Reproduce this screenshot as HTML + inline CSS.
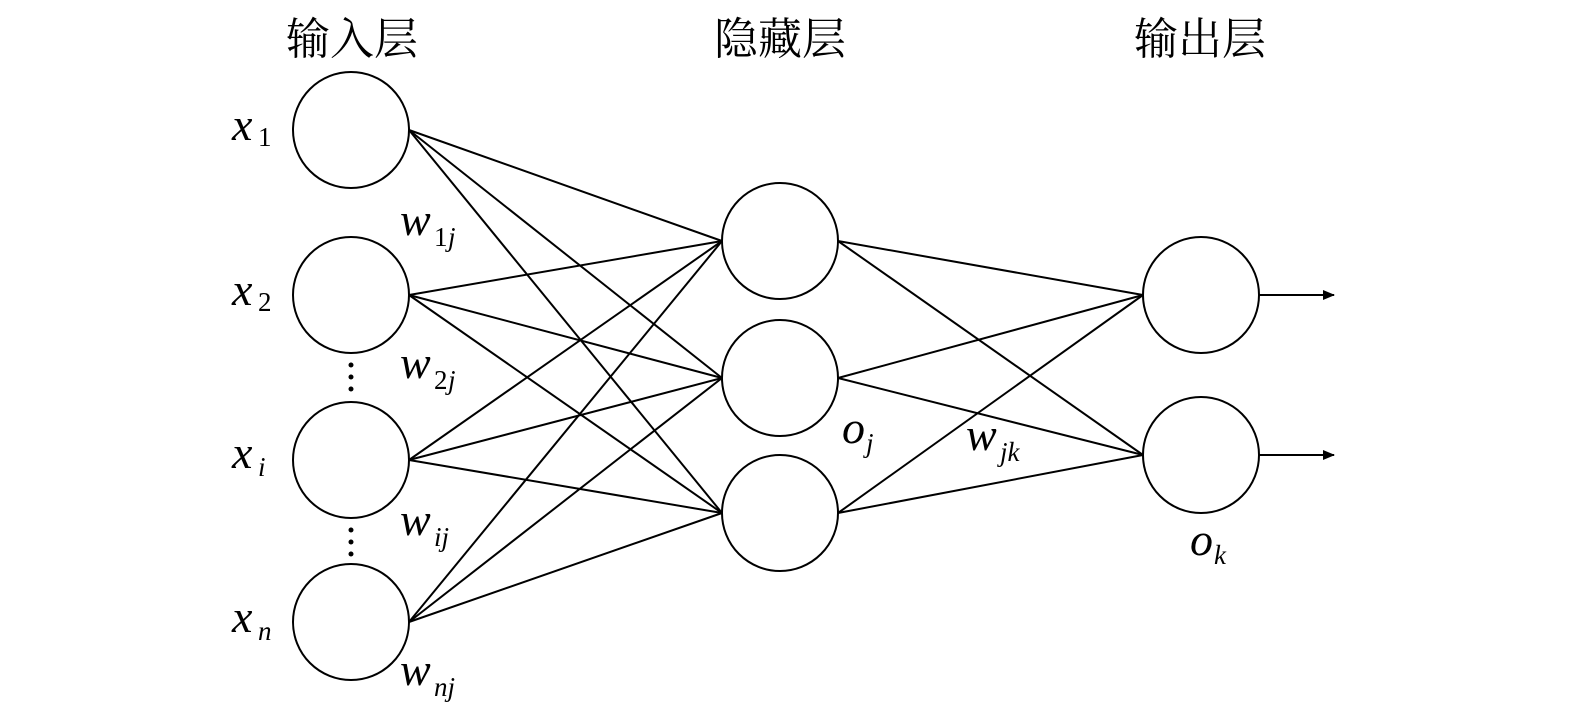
<!DOCTYPE html>
<html><head><meta charset="utf-8"><style>
html,body{margin:0;padding:0;background:#fff;}
svg{display:block;}
.t{font-family:"Liberation Serif","Noto Serif CJK SC",serif;}
.cn{font-family:"Liberation Serif","Noto Serif CJK SC","Noto Sans CJK SC",serif;font-size:44px;}
.v{font-family:"Liberation Serif",serif;font-style:italic;font-size:46px;}
.s{font-family:"Liberation Serif",serif;font-size:27px;}
.si{font-family:"Liberation Serif",serif;font-style:italic;font-size:27px;}
</style></head><body>
<svg width="1575" height="724" viewBox="0 0 1575 724" xmlns="http://www.w3.org/2000/svg">
<defs><marker id="a" markerWidth="12" markerHeight="10" refX="11" refY="5" orient="auto" markerUnits="userSpaceOnUse"><path d="M0,0 L12,5 L0,10 Z" fill="#000"/></marker></defs>
<g stroke="#000" stroke-width="2" fill="none">
<!-- input to hidden -->
<line x1="409" y1="130" x2="722" y2="241"/><line x1="409" y1="130" x2="722" y2="378"/><line x1="409" y1="130" x2="722" y2="513"/>
<line x1="409" y1="295" x2="722" y2="241"/><line x1="409" y1="295" x2="722" y2="378"/><line x1="409" y1="295" x2="722" y2="513"/>
<line x1="409" y1="460" x2="722" y2="241"/><line x1="409" y1="460" x2="722" y2="378"/><line x1="409" y1="460" x2="722" y2="513"/>
<line x1="409" y1="622" x2="722" y2="241"/><line x1="409" y1="622" x2="722" y2="378"/><line x1="409" y1="622" x2="722" y2="513"/>
<!-- hidden to output -->
<line x1="838" y1="241" x2="1143" y2="295"/><line x1="838" y1="241" x2="1143" y2="455"/>
<line x1="838" y1="378" x2="1143" y2="295"/><line x1="838" y1="378" x2="1143" y2="455"/>
<line x1="838" y1="513" x2="1143" y2="295"/><line x1="838" y1="513" x2="1143" y2="455"/>
<line x1="1259" y1="295" x2="1334" y2="295" marker-end="url(#a)"/>
<line x1="1259" y1="455" x2="1334" y2="455" marker-end="url(#a)"/>
<g fill="#fff">
<circle cx="351" cy="130" r="58"/><circle cx="351" cy="295" r="58"/><circle cx="351" cy="460" r="58"/><circle cx="351" cy="622" r="58"/>
<circle cx="780" cy="241" r="58"/><circle cx="780" cy="378" r="58"/><circle cx="780" cy="513" r="58"/>
<circle cx="1201" cy="295" r="58"/><circle cx="1201" cy="455" r="58"/>
</g>
</g>
<g fill="#000">
<circle cx="351" cy="365" r="2.5"/><circle cx="351" cy="377" r="2.5"/><circle cx="351" cy="389" r="2.5"/>
<circle cx="351" cy="530" r="2.5"/><circle cx="351" cy="542" r="2.5"/><circle cx="351" cy="554" r="2.5"/>
</g>
<text class="cn" x="352" y="54" text-anchor="middle">输入层</text>
<text class="cn" x="780" y="54" text-anchor="middle">隐藏层</text>
<text class="cn" x="1200" y="54" text-anchor="middle">输出层</text>
<text class="v" x="232" y="140">x</text><text class="s" x="258" y="146">1</text>
<text class="v" x="232" y="305">x</text><text class="s" x="258" y="311">2</text>
<text class="v" x="232" y="468">x</text><text class="si" x="258" y="476">i</text>
<text class="v" x="232" y="632">x</text><text class="si" x="258" y="640">n</text>
<text class="v" x="400" y="235">w</text><text class="s" x="434" y="246">1</text><text class="si" x="448" y="246">j</text>
<text class="v" x="400" y="378">w</text><text class="s" x="434" y="389">2</text><text class="si" x="448" y="389">j</text>
<text class="v" x="400" y="535">w</text><text class="si" x="434" y="546">ij</text>
<text class="v" x="400" y="685">w</text><text class="si" x="434" y="696">nj</text>
<text class="v" x="842" y="443">o</text><text class="si" x="866" y="452">j</text>
<text class="v" x="966" y="450">w</text><text class="si" x="1000" y="461">jk</text>
<text class="v" x="1190" y="555">o</text><text class="si" x="1214" y="564">k</text>
</svg>
</body></html>
